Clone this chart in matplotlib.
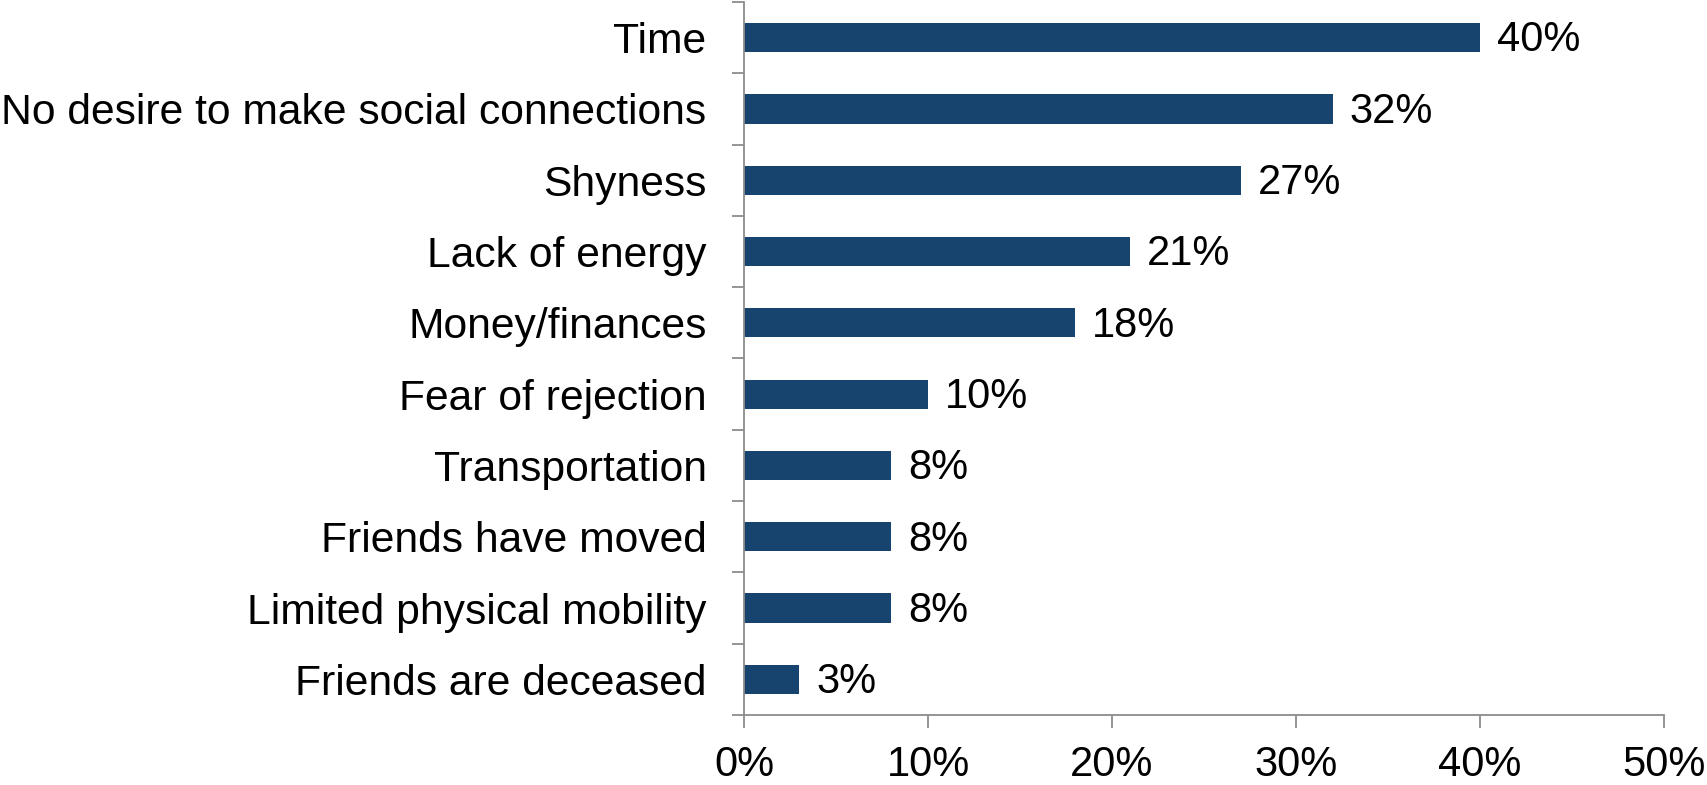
import matplotlib
matplotlib.use("Agg")
import matplotlib.pyplot as plt
import numpy as np

# bottom to top
categories = ['Friends are deceased', 'Limited physical mobility', 'Friends have moved',
              'Transportation', 'Fear of rejection', 'Money/finances', 'Lack of energy',
              'Shyness', 'No desire to make social connections', 'Time']
values = [3, 8, 8, 8, 10, 18, 21, 27, 32, 40]
xticks = [0, 10, 20, 30, 40, 50]

plt.rcParams['font.family'] = ['Liberation Sans', 'DejaVu Sans']

fig = plt.figure(figsize=(17.07, 7.85), dpi=100)
ax = fig.add_axes([0.4359, 0.0892, 0.9748 - 0.4359, 0.9975 - 0.0892])

pos = np.arange(len(categories))
bars = ax.barh(pos, values, height=0.41, color='#16446F')
for p, v in zip(pos, values):
    ax.annotate(f'{v}%', xy=(v, p), xytext=(12, -2), textcoords='offset points',
                ha='left', va='center', fontsize=30)

ax.set_xlim(0, 50)
ax.set_ylim(-0.5, len(categories) - 0.5)
ax.set_xticks(xticks)
ax.set_xticklabels([f'{t}%' for t in xticks], fontsize=30)
ax.set_yticks(pos)
ax.set_yticklabels(categories, fontsize=30.7)
ax.set_yticks(np.arange(len(categories) + 1) - 0.5, minor=True)

grey = '#8c8c8c'
for s in ['top', 'right']:
    ax.spines[s].set_visible(False)
for s in ['left', 'bottom']:
    ax.spines[s].set_color(grey)
    ax.spines[s].set_linewidth(1.3)

ax.tick_params(axis='y', which='major', length=0, pad=27)
ax.tick_params(axis='y', which='minor', length=9, width=1.3, color=grey)
ax.tick_params(axis='x', which='major', length=9.5, width=1.3, color=grey, pad=12)

fig.savefig('out.png', dpi=100)
